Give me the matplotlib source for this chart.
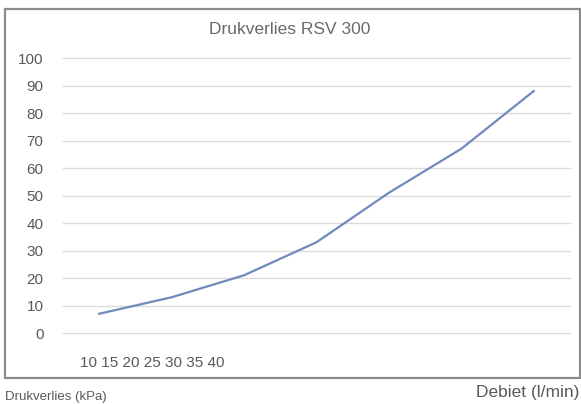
import matplotlib.pyplot as plt
from matplotlib.patches import Rectangle

# Data
flow_labels = ['10', '15', '20', '25', '30', '35', '40']
pressure_loss = [7, 13, 21, 33, 51, 67, 88]
y_ticks = [0, 10, 20, 30, 40, 50, 60, 70, 80, 90, 100]

plt.rcParams['font.family'] = ['Liberation Sans', 'DejaVu Sans']
text_grey = '#595959'

fig = plt.figure(figsize=(5.81, 4.04), dpi=100)
ax = fig.add_axes([0.1084, 0.1757, 0.8726, 0.6807])

# Chart frame (Excel-like border)
fig.patches.append(Rectangle((5 / 581, 0.064), 575 / 581, 0.914,
                             transform=fig.transFigure, fill=False,
                             edgecolor='#8c8c8c', linewidth=1.6))

x = range(len(pressure_loss))
ax.plot(x, pressure_loss, color='#7189bd', linewidth=1.6)

ax.set_xlim(-0.5, len(pressure_loss) - 0.5)
ax.set_ylim(0, 100)
ax.set_yticks(y_ticks)
ax.set_xticks([])
ax.tick_params(axis='y', length=0, labelsize=11, labelcolor=text_grey, pad=14)
for yt in y_ticks:
    ax.axhline(yt, color='#dcdcdc', linewidth=1, zorder=0, clip_on=False)
for side in ax.spines.values():
    side.set_visible(False)

# Category labels crammed together at the bottom left, as in the source
fig.text(80 / 581, 1 - 363 / 404, ' '.join(flow_labels), fontsize=11,
         color=text_grey, ha='left', va='center')

# Chart title, centred on the frame rather than the plot area
fig.text(290 / 581, 1 - 30 / 404, 'Drukverlies RSV 300', fontsize=12.5,
         color='#6a6a6a', ha='center', va='center')

# Axis titles that ended up outside the chart frame
fig.text(579 / 581, 1 - 392 / 404, 'Debiet (l/min)', fontsize=12.5,
         color=text_grey, ha='right', va='center')
fig.text(5 / 581, 1 / 404, 'Drukverlies (kPa)', fontsize=9.5,
         color=text_grey, ha='left', va='bottom')

plt.savefig('out.png', dpi=100)
plt.close()
